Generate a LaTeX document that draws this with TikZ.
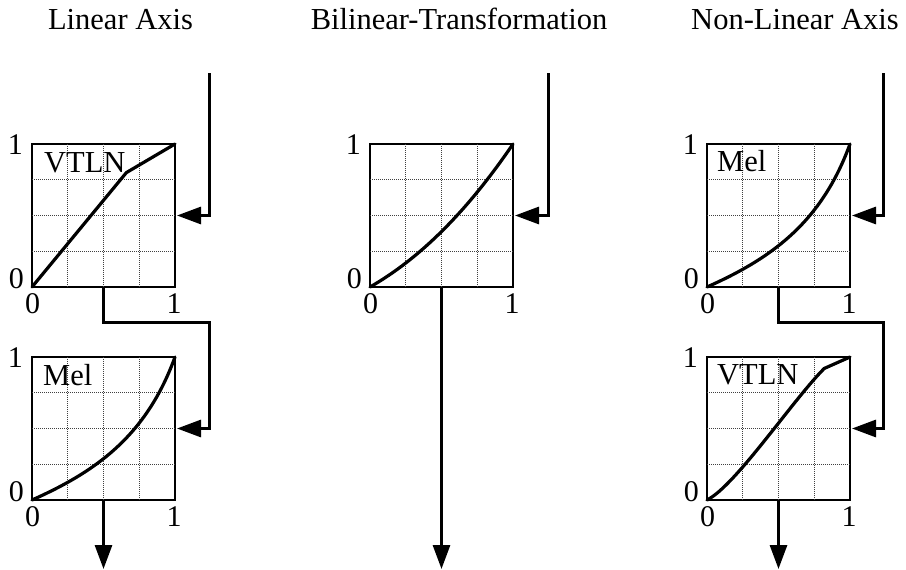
\documentclass[tikz,border=0pt]{standalone}
\usepackage{fontspec}
\setmainfont{Liberation Serif}
\usetikzlibrary{arrows.meta}
\begin{document}
\begin{tikzpicture}[x=1pt,y=-1pt,
  frame/.style={draw, line width=1.6pt, minimum size=143pt, inner sep=0pt, outer sep=0pt, anchor=north west},
  gridline/.style={dash pattern=on 1pt off 1pt, line width=0.8pt, black!75},
  curve/.style={line width=3.2pt, line join=round, line cap=round},
  flow/.style={line width=3pt, -{Triangle[length=24pt,width=17pt]}},
  title/.style={font=\fontsize{30.5}{32}\selectfont, anchor=base, inner sep=0pt},
  tick/.style={font=\fontsize{30}{32}\selectfont, inner sep=0pt},
  tag/.style={font=\fontsize{30.5}{32}\selectfont, anchor=base west, inner sep=0pt}]
\useasboundingbox (0,0) rectangle (906,570);

% titles
\node[title] (t1) at (120.5,29) {Linear Axis};
\node[title] (t2) at (459,29) {Bilinear-Transformation};
\node[title] (t3) at (795,29) {Non-Linear Axis};

% frames
\node[frame] (A) at (32,144) {};
\node[frame] (B) at (32,357) {};
\node[frame] (C) at (370,144) {};
\node[frame] (D) at (707,144) {};
\node[frame] (E) at (707,357) {};

% grids and ticks
\foreach \f in {A,B,C,D,E} {
  \begin{scope}[shift={(\f.south west)}, x=143pt, y=143pt]
    \foreach \g in {0.25,0.5,0.75} {
      \draw[gridline] (\g,0) -- (\g,1);
      \draw[gridline] (0,\g) -- (1,\g);
    }
  \end{scope}
  \node[tick, anchor=base east] (\f-ly1) at ([xshift=-9pt,yshift=-10pt]\f.north west) {1};
  \node[tick, anchor=base east] (\f-ly0) at ([xshift=-8pt,yshift=-1pt]\f.south west) {0};
  \node[tick, anchor=base] (\f-lx0) at ([xshift=0.5pt,yshift=-26pt]\f.south west) {0};
  \node[tick, anchor=base] (\f-lx1) at ([xshift=-1pt,yshift=-26.5pt]\f.south east) {1};
}

% curves
\begin{scope}[shift={(A.south west)}, x=143pt, y=143pt]
  \draw[curve] (0,0) -- (0.66,0.80) -- (1,1);
\end{scope}
\begin{scope}[shift={(B.south west)}, x=143pt, y=143pt]
  \draw[curve] (0,0) .. controls (0.45,0.2) and (0.8,0.45) .. (1,1);
\end{scope}
\begin{scope}[shift={(C.south west)}, x=143pt, y=143pt]
  \draw[curve] (0,0) .. controls (0.35,0.2) and (0.68,0.53) .. (1,1);
\end{scope}
\begin{scope}[shift={(D.south west)}, x=143pt, y=143pt]
  \draw[curve] (0,0) .. controls (0.45,0.2) and (0.8,0.45) .. (1,1);
\end{scope}
\begin{scope}[shift={(E.south west)}, x=143pt, y=143pt]
  \draw[curve] (0,0) .. controls (0.2,0.1) and (0.6,0.7) .. (0.82,0.92) -- (1,1);
\end{scope}

% tags
\node[tag] (vA) at (44,172) {VTLN};
\node[tag] (mB) at (43,385) {Mel};
\node[tag] (mD) at (717,171) {Mel};
\node[tag] (vE) at (717,384) {VTLN};

% connectors
\coordinate (in1) at (209,73);
\coordinate (in2) at (548,73);
\coordinate (in3) at (883,73);
\coordinate (j1) at (209,322);
\coordinate (j3) at (883,322);
\coordinate (out) at (0,569);

\draw[flow] (in1) |- ([xshift=2pt]A.east);
\draw[flow] (A.south) |- (j1) |- ([xshift=2pt]B.east);
\draw[flow] (B.south) -- (B.south |- out);

\draw[flow] (in2) |- ([xshift=2pt]C.east);
\draw[flow] (C.south) -- (C.south |- out);

\draw[flow] (in3) |- ([xshift=2pt]D.east);
\draw[flow] (D.south) |- (j3) |- ([xshift=2pt]E.east);
\draw[flow] (E.south) -- (E.south |- out);
\end{tikzpicture}
\end{document}
